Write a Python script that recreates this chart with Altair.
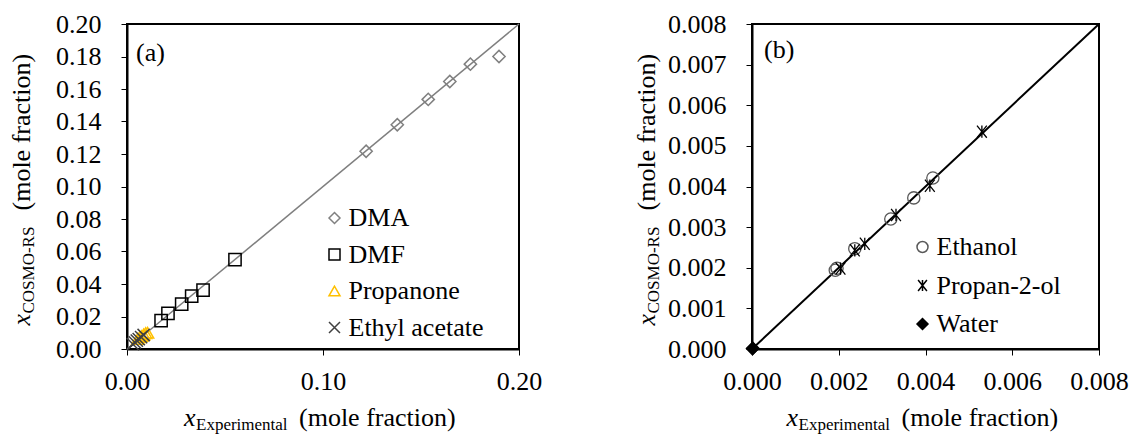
import altair as alt
import pandas as pd

FONT = "Liberation Serif"

# ---------------- Panel (a) data ----------------
a_names = ["DMA", "DMF", "Propanone", "Ethyl acetate"]
a_colors = ["#808080", "#000000", "#FFC000", "#404040"]
a_shapes = ["diamond", "square", "triangle-up", "M-1,-1L1,1M-1,1L1,-1"]

dma_exp = [0.1220, 0.1379, 0.1537, 0.1647, 0.1752, 0.1898]
dma_cos = [0.1217, 0.1380, 0.1536, 0.1646, 0.1753, 0.1800]
dmf_exp = [0.0174, 0.0209, 0.0279, 0.0330, 0.0388, 0.0551]
dmf_cos = [0.0174, 0.0219, 0.0276, 0.0325, 0.0362, 0.0550]
prop_exp = [0.0055, 0.0065, 0.0075, 0.0085, 0.0095, 0.0105]
prop_cos = [0.0062, 0.0072, 0.0080, 0.0090, 0.0098, 0.0100]
etac_exp = [0.0030, 0.0040, 0.0050, 0.0060, 0.0072, 0.0085]
etac_cos = [0.0030, 0.0041, 0.0052, 0.0061, 0.0073, 0.0086]

# ---------------- Panel (b) data ----------------
b_names = ["Ethanol", "Propan-2-ol", "Water"]
b_colors = ["#595959", "#000000", "#000000"]
b_fills = ["transparent", "transparent", "#000000"]
b_shapes = ["circle", "M-0.8,-1L0.8,1M-0.8,1L0.8,-1M0,-1L0,1", "diamond"]

eth_exp = [0.00192, 0.00196, 0.00237, 0.00320, 0.00373, 0.00417]
eth_cos = [0.00194, 0.00199, 0.00247, 0.00320, 0.00372, 0.00421]
ipa_exp = [0.00204, 0.00237, 0.00260, 0.00332, 0.00410, 0.00530]
ipa_cos = [0.00198, 0.00243, 0.00259, 0.00330, 0.00402, 0.00535]
water_exp = [0.00001, 0.00002]
water_cos = [0.00001, 0.00002]

a_y_ticks = [0.00, 0.02, 0.04, 0.06, 0.08, 0.10, 0.12, 0.14, 0.16, 0.18, 0.20]
a_x_ticks = [0.0, 0.1, 0.2]
b_y_ticks = [0.000, 0.001, 0.002, 0.003, 0.004, 0.005, 0.006, 0.007, 0.008]
b_x_ticks = [0.000, 0.002, 0.004, 0.006, 0.008]

A_W, A_H = 392, 325
B_W, B_H = 347, 325
FS = 26
FS_SUB = 17


def frame(field, names, xs, ys):
    rows = []
    for n, xv, yv in zip(names, xs, ys):
        for a, b in zip(xv, yv):
            rows.append({field: n, "xexp": a, "xcos": b})
    return pd.DataFrame(rows)


def txt(text, x, y, size=FS, angle=0, italic=False, align="left"):
    kw = dict(font=FONT, fontSize=size, color="black", align=align,
              baseline="alphabetic", angle=angle)
    if italic:
        kw["fontStyle"] = "italic"
    return alt.Chart(alt.Data(values=[{}])).mark_text(text=text, **kw).encode(
        x=alt.value(x), y=alt.value(y))


def titles(w, h, sub_x, sub_y, tag, tag_x, tag_y):
    cx = w / 2
    cy = h / 2
    xb = h + 77
    yb = -97
    return [
        txt("x", cx - 139, xb, italic=True),
        txt(sub_x, cx - 127, xb + 4, size=FS_SUB),
        txt("(mole fraction)", cx - 24, xb),
        txt("x", yb, cy + 139, angle=270, italic=True),
        txt(sub_y, yb + 4, cy + 127, size=FS_SUB, angle=270),
        txt("(mole fraction)", yb, cy + 24, angle=270),
        txt(tag, tag_x, tag_y),
    ]


def legend(lx, ly, rowpad, loff):
    return alt.Legend(title=None, orient="none", legendX=lx, legendY=ly,
                      rowPadding=rowpad, labelOffset=loff, padding=0,
                      symbolSize=121, symbolStrokeWidth=1.5,
                      labelFont=FONT, labelFontSize=FS, labelColor="black")


def axis(vals, fmt):
    return alt.Axis(values=vals, format=fmt, title=None, labelOverlap=False,
                    labelFlush=False)


# ---------------- Panel (a) ----------------
df_a = frame("solvent_a", a_names, [dma_exp, dmf_exp, prop_exp, etac_exp],
             [dma_cos, dmf_cos, prop_cos, etac_cos])
line_a = pd.DataFrame({"xexp": [0.0, 0.2], "xcos": [0.0, 0.2]})

xa = alt.X("xexp:Q", scale=alt.Scale(domain=[0, 0.2], nice=False, zero=False),
           axis=axis(a_x_ticks, ".2f"))
ya = alt.Y("xcos:Q", scale=alt.Scale(domain=[0, 0.2], nice=False, zero=False),
           axis=axis(a_y_ticks, ".2f"))

leg_a = legend(194.5, 181, 10.5, 1)
la = alt.Chart(line_a).mark_line(color="#7f7f7f", strokeWidth=1.5).encode(x=xa, y=ya)
pa = alt.Chart(df_a).mark_point(filled=False, size=150, strokeWidth=1.5, opacity=1).encode(
    x=xa, y=ya,
    shape=alt.Shape("solvent_a:N", scale=alt.Scale(domain=a_names, range=a_shapes), legend=leg_a),
    color=alt.Color("solvent_a:N", scale=alt.Scale(domain=a_names, range=a_colors), legend=leg_a),
)
panel_a = alt.layer(la, pa, *titles(A_W, A_H, "Experimental", "COSMO-RS", "(a)", 9, 37)).properties(
    width=A_W, height=A_H)

# ---------------- Panel (b) ----------------
df_b = frame("solvent_b", b_names, [eth_exp, ipa_exp, water_exp], [eth_cos, ipa_cos, water_cos])
line_b = pd.DataFrame({"xexp": [0.0, 0.008], "xcos": [0.0, 0.008]})

xb_ = alt.X("xexp:Q", scale=alt.Scale(domain=[0, 0.008], nice=False, zero=False),
            axis=axis(b_x_ticks, ".3f"))
yb_ = alt.Y("xcos:Q", scale=alt.Scale(domain=[0, 0.008], nice=False, zero=False),
            axis=axis(b_y_ticks, ".3f"))

leg_b = legend(157.5, 210, 12.5, 1)
lb = alt.Chart(line_b).mark_line(color="black", strokeWidth=2).encode(x=xb_, y=yb_)
pb = alt.Chart(df_b).mark_point(filled=False, size=150, strokeWidth=1.3, opacity=1).encode(
    x=xb_, y=yb_,
    shape=alt.Shape("solvent_b:N", scale=alt.Scale(domain=b_names, range=b_shapes), legend=leg_b),
    color=alt.Color("solvent_b:N", scale=alt.Scale(domain=b_names, range=b_colors), legend=leg_b),
    fill=alt.Fill("solvent_b:N", scale=alt.Scale(domain=b_names, range=b_fills), legend=leg_b),
)
panel_b = alt.layer(lb, pb, *titles(B_W, B_H, "Experimental", "COSMO-RS", "(b)", 12, 34)).properties(
    width=B_W, height=B_H)

chart = alt.hconcat(panel_a, panel_b, spacing=233, bounds="flush").resolve_scale(
    x="independent", y="independent", shape="independent", color="independent", fill="independent"
).resolve_legend(shape="independent", color="independent", fill="independent").properties(
    padding={"left": 0, "top": 2, "right": 0, "bottom": 0}
).configure_view(stroke="black", strokeWidth=2).configure_axis(
    grid=False, domainColor="black", domainWidth=2, tickColor="black", tickWidth=1,
    tickSize=6, labelFont=FONT, labelFontSize=FS, labelColor="black", labelPadding=13,
).configure_axisY(labelPadding=20)

chart.save("out.html", embed_options={"renderer": "svg", "actions": False})
